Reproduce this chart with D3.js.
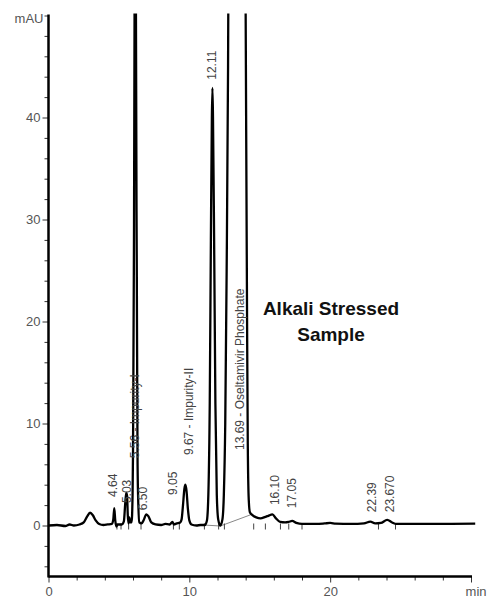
<!DOCTYPE html>
<html>
<head>
<meta charset="utf-8">
<script src="https://cdn.jsdelivr.net/npm/d3@7"></script>
<style>
  body { margin: 0; background: #fff; }
  svg { display: block; font-family: 'Liberation Sans', Arial, sans-serif; }
</style>
</head>
<body>
<svg id="vis" width="487" height="602"></svg>
<script>
// chromatogram trace, [time (min), absorbance (mAU)]
const trace = [
  [0, 0], [0.6, 0.05], [1.2, -0.05], [1.5, 0.1], [1.8, 0.0], [2.2, 0.1], [2.5, 0.3],
  [2.75, 0.9], [2.95, 1.25], [3.15, 1.0], [3.35, 0.5], [3.6, 0.15], [3.9, 0.05], [4.2, 0.1],
  [4.5, 0.15], [4.6, 0.6], [4.67, 1.7], [4.74, 0.5], [4.82, -0.1], [4.9, 0.1], [5.2, 0.1],
  [5.35, 0.4], [5.45, 2.2], [5.52, 3.2], [5.58, 2.9], [5.63, 1.0], [5.68, 0.2], [5.74, 0.8],
  [5.8, 0.3], [5.9, 0.3], [5.97, 3], [6.0, 7], [6.06, 25], [6.11, 50], [6.16, 150],
  [6.21, 50], [6.27, 25], [6.32, 7], [6.36, 3], [6.45, 0.3], [6.6, 0.2], [6.75, 0.5],
  [6.95, 1.1], [7.1, 0.9], [7.3, 0.3], [7.6, 0.1], [8.0, 0.05], [8.3, 0.15], [8.6, 0.1],
  [8.8, 0.35], [8.9, 0.1], [9.1, 0.2], [9.35, 0.3], [9.45, 0.6], [9.55, 2.0], [9.65, 3.6],
  [9.72, 4.0], [9.8, 3.4], [9.9, 1.6], [10.0, 0.5], [10.15, 0.1], [10.5, 0.0], [10.8, 0.05],
  [11.1, 0.05], [11.25, 0.5], [11.35, 3], [11.45, 12], [11.53, 28], [11.6, 40], [11.64, 42.9],
  [11.68, 40], [11.76, 28], [11.85, 12], [11.95, 3], [12.05, 0.6], [12.2, 0.0], [12.35, 0.6],
  [12.45, 3], [12.55, 10], [12.65, 25], [12.75, 45], [12.85, 80], [13.4, 400], [13.9, 80],
  [14.0, 50], [14.1, 20], [14.15, 8], [14.22, 2.5], [14.3, 1.3], [14.5, 1.0], [14.75, 0.8],
  [15.05, 0.7], [15.4, 0.85], [15.6, 0.95], [15.9, 1.1], [16.15, 0.7], [16.45, 0.35],
  [16.8, 0.3], [17.05, 0.35], [17.3, 0.45], [17.6, 0.25], [18.0, 0.15], [19.0, 0.15],
  [19.6, 0.2], [20.0, 0.25], [20.4, 0.18], [21.5, 0.15], [22.4, 0.2], [22.85, 0.38],
  [23.2, 0.2], [23.6, 0.25], [24.05, 0.55], [24.4, 0.3], [24.7, 0.15], [26, 0.15],
  [28, 0.15], [30.3, 0.18]
];

// integration baselines drawn under the main peaks
const baselines = [
  [[11.0, 0.05], [12.2, -0.05]],
  [[12.2, -0.05], [14.35, 1.05]]
];

// peak start / end markers
const markers = [4.86, 5.15, 5.69, 6.57, 8.87, 9.29, 11.07, 12.08, 12.49,
  14.57, 15.4, 16.47, 17.06, 18.0, 23.43, 24.64];

// peak annotations: position (min), level where text starts (mAU), text
const peakLabels = [
  {t: 4.53, lvl: 2.8, text: '4.64'},
  {t: 5.59, lvl: 2.2, text: '5.03'},
  {t: 6.16, lvl: 6.6, text: '5.56 - Impurity-I'},
  {t: 6.73, lvl: 1.5, text: '6.50'},
  {t: 8.86, lvl: 3.0, text: '9.05'},
  {t: 9.93, lvl: 6.9, text: '9.67 - Impurity-II'},
  {t: 11.63, lvl: 43.7, text: '12.11'},
  {t: 13.55, lvl: 7.4, text: '13.69 - Oseltamivir Phosphate'},
  {t: 16.1, lvl: 2.0, text: '16.10'},
  {t: 17.25, lvl: 1.7, text: '17.05'},
  {t: 22.94, lvl: 1.3, text: '22.39'},
  {t: 24.2, lvl: 1.3, text: '23.670'}
];

const xMajor = [0, 10, 20, 30];
const xLabels = ['0', '10', '20', 'min'];
const yMajor = [0, 10, 20, 30, 40];
const titleLines = ['Alkali Stressed', 'Sample'];

const svg = d3.select('#vis');
const x = d3.scaleLinear().domain([0, 30]).range([48.5, 471]);
const y = d3.scaleLinear().domain([-5, 50]).range([576.5, 15.5]);

svg.append('defs').append('clipPath').attr('id', 'plot')
  .append('rect')
    .attr('x', x(0)).attr('y', y(50) - 2)
    .attr('width', 440).attr('height', y(-5) - y(50));

// minor + major ticks
const yMinor = d3.range(-4, 51, 2).filter(v => !yMajor.includes(v));
const yAxisMinor = d3.axisLeft(y).tickValues(yMinor).tickSize(4).tickFormat('');
const yAxisMajor = d3.axisLeft(y).tickValues(yMajor).tickSize(6).tickPadding(2);
const xMinor = d3.range(2, 30, 2).filter(v => !xMajor.includes(v));
const xAxisMinor = d3.axisBottom(x).tickValues(xMinor).tickSize(4).tickFormat('');
const xAxisMajor = d3.axisBottom(x).tickValues(xMajor).tickSize(6).tickPadding(4)
  .tickFormat((d, i) => xLabels[i]);

function styleAxis(g) {
  g.select('.domain').remove();
  g.selectAll('line').attr('stroke', '#333');
  g.selectAll('text').attr('fill', '#555').attr('font-size', 13)
    .attr('font-family', "'Liberation Sans', Arial, sans-serif");
}

svg.append('g').attr('transform', `translate(${x(0)},0)`).call(yAxisMinor).call(styleAxis);
svg.append('g').attr('transform', `translate(${x(0)},0)`).call(yAxisMajor).call(styleAxis);
svg.append('g').attr('transform', `translate(0,${y(-5)})`).call(xAxisMinor).call(styleAxis);
const xg = svg.append('g').attr('transform', `translate(0,${y(-5)})`).call(xAxisMajor).call(styleAxis);
// keep the unit label inside the frame
xg.selectAll('.tick').filter(d => d === 30).select('text')
  .attr('text-anchor', 'end').attr('x', 486 - x(30));

svg.append('text')
  .attr('x', x(0) - 5).attr('y', y(50) + 7)
  .attr('text-anchor', 'end')
  .attr('fill', '#555').attr('font-size', 13)
  .text('mAU');

// integration baselines
svg.append('g').selectAll('line').data(baselines).join('line')
  .attr('x1', d => x(d[0][0])).attr('y1', d => y(d[0][1]))
  .attr('x2', d => x(d[1][0])).attr('y2', d => y(d[1][1]))
  .attr('stroke', '#888').attr('stroke-width', 1);

svg.append('g').selectAll('line').data(markers).join('line')
  .attr('x1', d => x(d)).attr('x2', d => x(d))
  .attr('y1', y(0) - 2).attr('y2', y(0) + 4)
  .attr('stroke', '#444').attr('stroke-width', 1);

const line = d3.line()
  .x(d => x(d[0]))
  .y(d => y(d[1]))
  .curve(d3.curveMonotoneX);

svg.append('path')
  .datum(trace)
  .attr('clip-path', 'url(#plot)')
  .attr('fill', 'none')
  .attr('stroke', '#000')
  .attr('stroke-width', 2.3)
  .attr('stroke-linejoin', 'round')
  .attr('d', line);

// axes lines
svg.append('line')
  .attr('x1', x(0)).attr('x2', x(0))
  .attr('y1', y(50) - 1).attr('y2', y(-5) + 1)
  .attr('stroke', '#000').attr('stroke-width', 2.5);
svg.append('line')
  .attr('x1', x(0)).attr('x2', x(30) + 1)
  .attr('y1', y(-5)).attr('y2', y(-5))
  .attr('stroke', '#000').attr('stroke-width', 2.5);

// peak annotations
svg.append('g').selectAll('text').data(peakLabels).join('text')
  .attr('transform', d => `translate(${x(d.t)},${y(d.lvl)}) rotate(-90)`)
  .attr('dy', '0.35em')
  .attr('fill', '#444')
  .attr('font-size', 12)
  .text(d => d.text);

svg.append('g').selectAll('text').data(titleLines).join('text')
  .attr('x', 331)
  .attr('y', (d, i) => 315 + i * 26)
  .attr('text-anchor', 'middle')
  .attr('font-size', 19)
  .attr('font-weight', 'bold')
  .attr('fill', '#111')
  .text(d => d);
</script>
</body>
</html>
